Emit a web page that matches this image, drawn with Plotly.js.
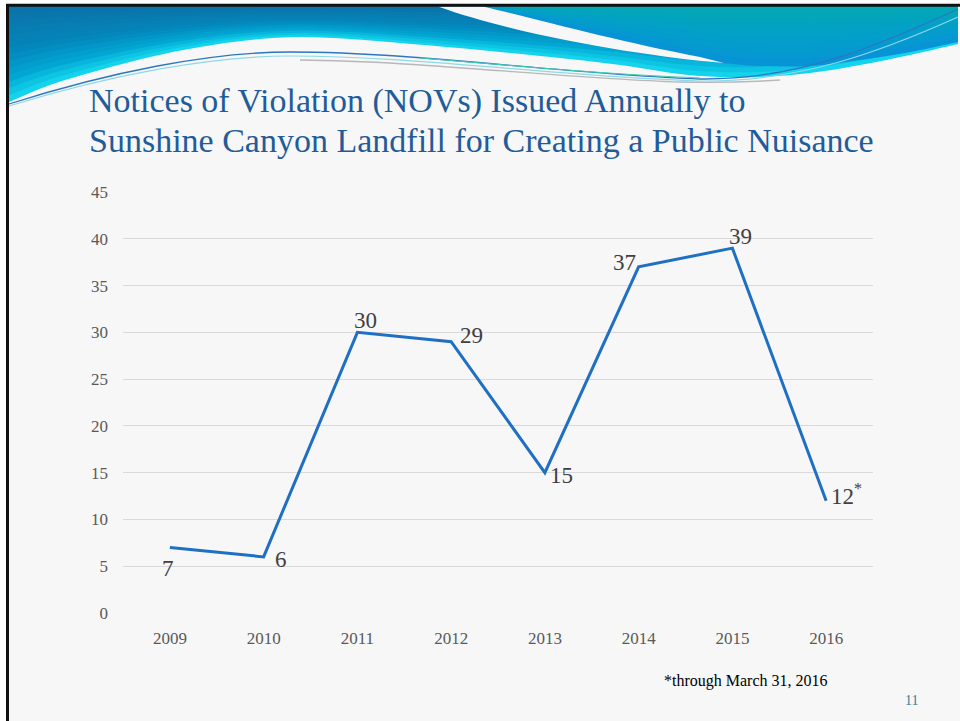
<!DOCTYPE html>
<html>
<head>
<meta charset="utf-8">
<script src="https://cdn.plot.ly/plotly-3.0.1.min.js"></script>
<style>
  html, body { margin: 0; padding: 0; background: #ffffff; }
  #chart { width: 960px; height: 721px; }
</style>
</head>
<body>
<div id="chart"></div>
<script>
// ---------------- data ----------------
const years = ['2009', '2010', '2011', '2012', '2013', '2014', '2015', '2016'];
const novs = [7, 6, 30, 29, 15, 37, 39, 12];
const labelText = ['7', '6', '30', '29', '15', '37', '39', '12<sup>*</sup>'];
const labelPos = ['bottom', 'right', 'top', 'upperright', 'right', 'left', 'top', 'upperright'];
const yTicks = [0, 5, 10, 15, 20, 25, 30, 35, 40, 45];

const titleLines = ['Notices of Violation (NOVs) Issued Annually to',
                    'Sunshine Canyon Landfill for Creating a Public Nuisance'];
const footnote = '*through March 31, 2016';
const pageNumber = '11';

// ---------------- helpers (figure pixels -> paper) ----------------
const W = 960, H = 721;
const FONT = 'Liberation Serif, DejaVu Serif, serif';
function px(x) { return x / W; }
function py(y) { return 1 - y / H; }
function path(str) {
  const tok = str.trim().split(/[\s,]+/);
  let out = [], isX = true;
  for (const t of tok) {
    if (/^[A-Za-z]$/.test(t)) { out.push(t); isX = true; }
    else { const v = parseFloat(t); out.push((isX ? px(v) : py(v)).toFixed(5)); isX = !isX; }
  }
  return out.join(' ');
}
function smooth(pts) {
  let s = '';
  for (let i = 0; i < pts.length - 1; i++) {
    const p0 = pts[Math.max(0, i - 1)], p1 = pts[i], p2 = pts[i + 1], p3 = pts[Math.min(pts.length - 1, i + 2)];
    const c1 = [p1[0] + (p2[0] - p0[0]) / 6, p1[1] + (p2[1] - p0[1]) / 6];
    const c2 = [p2[0] - (p3[0] - p1[0]) / 6, p2[1] - (p3[1] - p1[1]) / 6];
    s += ` C ${c1[0].toFixed(2)} ${c1[1].toFixed(2)} ${c2[0].toFixed(2)} ${c2[1].toFixed(2)} ${p2[0]} ${p2[1]}`;
  }
  return s;
}
function hex(c) { return [1, 3, 5].map(i => parseInt(c.substr(i, 2), 16)); }
function mix(a, b, t) {
  const A = hex(a), B = hex(b);
  return 'rgb(' + A.map((v, i) => Math.round(v + (B[i] - v) * t)).join(',') + ')';
}
function ramp(stops, f) {
  for (let i = 0; i < stops.length - 1; i++) {
    if (f <= stops[i + 1][0]) {
      const t = (f - stops[i][0]) / (stops[i + 1][0] - stops[i][0]);
      return mix(stops[i][1], stops[i + 1][1], Math.max(0, Math.min(1, t)));
    }
  }
  return mix(stops[stops.length - 1][1], stops[stops.length - 1][1], 0);
}

const shapes = [];
const TOP = 6.5;
// left swoosh region (dark blue at top -> cyan at the bottom edge)
const lowerL = [[9,102],[50,85],[100,70],[150,57],[200,47],[250,40],[300,37],[350,39],[400,43],
                [480,50],[560,58],[620,65],[680,74],[720,77],[760,77],[810,73],[860,65],[910,55],[958,44]];
const stopsL = [[0, '#0A72A8'], [0.45, '#0485BA'], [0.75, '#02A6D2'], [1.0, '#16DCF0']];
const nL = 14;
for (let i = 0; i < nL; i++) {
  const f = 1 - i / nL;
  const pts = lowerL.map(p => [p[0], TOP + f * (p[1] - TOP)]).reverse();
  const str = `M 9 ${TOP} L 958 ${TOP} L ${pts[0][0]} ${pts[0][1]}` + smooth(pts) + ' Z';
  shapes.push({type: 'path', xref: 'paper', yref: 'paper', layer: 'below', path: path(str),
               fillcolor: ramp(stopsL, f - 0.5 / nL), line: {width: 0}});
}
// right swoosh region (teal top -> blue bottom)
const lowerR = [[722,63],[760,66],[810,66],[860,60],[910,52],[958,42]];
const stopsR = [[0, '#03A8B2'], [0.5, '#02A0C8'], [1.0, '#0793D6']];
{
  const pts = lowerR.slice().reverse();
  const str = `M 438 ${TOP} L 958 ${TOP} L 958 42` + smooth(pts) + ` C 650 57 520 36 438 ${TOP} Z`;
  shapes.push({type: 'path', xref: 'paper', yref: 'paper', layer: 'below', path: path(str),
               fillcolor: '#0793D6', line: {width: 0}});
}
const nR = 8;
for (let i = 1; i < nR; i++) {
  const f = 1 - i / nR;
  const pts = lowerR.map(p => [p[0], TOP + f * (p[1] - TOP)]).reverse();
  const str = `M 483 ${TOP} L 958 ${TOP} L ${pts[0][0]} ${pts[0][1]}` + smooth(pts) + ` L 483 ${TOP} Z`;
  shapes.push({type: 'path', xref: 'paper', yref: 'paper', layer: 'below', path: path(str),
               fillcolor: ramp(stopsR, f - 0.5 / nR), line: {width: 0}});
}
// white streak
shapes.push({type: 'path', xref: 'paper', yref: 'paper', layer: 'below',
  path: path(`M 438 ${TOP} L 483 ${TOP} C 540 20 620 42 700 57 L 724 63 C 650 57 520 36 438 ${TOP} Z`),
  fillcolor: '#F7F7F7', line: {width: 0}});
// thin decorative lines
const lineDefs = [
  {d: 'M 9 104 C 110 72 210 52 290 52 C 420 52 560 74 700 79 C 800 80 880 45 958 9', c: '#2C78C0', w: 1.3},
  {d: 'M 9 106 C 110 75 210 56 290 56 C 420 56 560 77 700 81 C 800 82 880 52 958 17', c: '#8FD8E8', w: 1.2},
  {d: 'M 300 60 C 420 61 560 78 680 82 C 720 83 750 82 780 80', c: '#B8B8B8', w: 1.4},
  {d: 'M 420 58 C 520 66 600 74 700 78', c: '#3CCFB0', w: 1.0}
];
for (const l of lineDefs) {
  shapes.push({type: 'path', xref: 'paper', yref: 'paper', layer: 'below', path: path(l.d),
               fillcolor: 'rgba(0,0,0,0)', line: {color: l.c, width: l.w}});
}
// white margins + black frame (top and left)
shapes.push({type: 'rect', xref: 'paper', yref: 'paper', layer: 'below', x0: 0, x1: 1, y0: py(4), y1: 1,
             fillcolor: '#FFFFFF', line: {width: 0}});
shapes.push({type: 'rect', xref: 'paper', yref: 'paper', layer: 'below', x0: 0, x1: px(6), y0: 0, y1: 1,
             fillcolor: '#FFFFFF', line: {width: 0}});
shapes.push({type: 'line', xref: 'paper', yref: 'paper', layer: 'below', x0: px(6), x1: 1, y0: py(5.3), y1: py(5.3),
             line: {color: '#111111', width: 3}});
shapes.push({type: 'line', xref: 'paper', yref: 'paper', layer: 'below', x0: px(7.5), x1: px(7.5), y0: 0, y1: py(4),
             line: {color: '#111111', width: 3}});

// ---------------- chart ----------------
const trace = {
  type: 'scatter', x: years, y: novs, mode: 'lines',
  line: {color: '#1F6FC4', width: 3},
  hoverinfo: 'skip', showlegend: false
};

// data labels placed at each data point (category index on the x axis), shifted by side
const shiftBySide = {bottom: [-2, -21], right: [17, -3], upperright: [20, 6], top: [8, 12], left: [-14, 4]};
const labelAnnotations = years.map((yr, i) => ({
  xref: 'x', yref: 'y', x: years.indexOf(yr), y: novs[i], showarrow: false,
  text: labelText[i], xanchor: 'center', yanchor: 'middle',
  xshift: shiftBySide[labelPos[i]][0], yshift: shiftBySide[labelPos[i]][1],
  font: {family: FONT, size: 23, color: '#404040'}
}));

const layout = {
  width: W, height: H,
  margin: {l: 0, r: 0, t: 0, b: 0, pad: 0},
  paper_bgcolor: '#F7F7F7', plot_bgcolor: 'rgba(0,0,0,0)',
  showlegend: false,
  xaxis: {
    type: 'category', domain: [px(123), px(873)], range: [-0.5, 7.5],
    showgrid: false, zeroline: false, showline: false, ticks: '',
    tickfont: {family: FONT, size: 17, color: '#595959'},
    ticklabelstandoff: 13, automargin: false, fixedrange: true
  },
  yaxis: {
    domain: [py(613), py(192)], range: [0, 45],
    tickmode: 'array', tickvals: yTicks, ticktext: yTicks.map(String),
    showgrid: true, gridcolor: '#D9D9D9', gridwidth: 1,
    zeroline: false, showline: false, ticks: '',
    tickfont: {family: FONT, size: 17, color: '#595959'},
    ticklabelstandoff: 14, automargin: false, fixedrange: true
  },
  shapes: shapes,
  annotations: [
    {xref: 'paper', yref: 'paper', x: px(87), y: py(122), xanchor: 'left', yanchor: 'bottom',
     align: 'left', showarrow: false, text: titleLines[0],
     font: {family: FONT, size: 34, color: '#1F5C99'}},
    {xref: 'paper', yref: 'paper', x: px(87), y: py(161), xanchor: 'left', yanchor: 'bottom',
     align: 'left', showarrow: false, text: titleLines[1],
     font: {family: FONT, size: 34, color: '#1F5C99'}},
    {xref: 'paper', yref: 'paper', x: px(746), y: py(681), xanchor: 'center', yanchor: 'middle',
     showarrow: false, text: footnote, font: {family: FONT, size: 16, color: '#000000'}},
    {xref: 'paper', yref: 'paper', x: px(911), y: py(700), xanchor: 'center', yanchor: 'middle',
     showarrow: false, text: pageNumber, font: {family: FONT, size: 14, color: '#31849B'}}
  ].concat(labelAnnotations)
};

Plotly.newPlot('chart', [trace], layout, {displayModeBar: false, staticPlot: true});
</script>
</body>
</html>
